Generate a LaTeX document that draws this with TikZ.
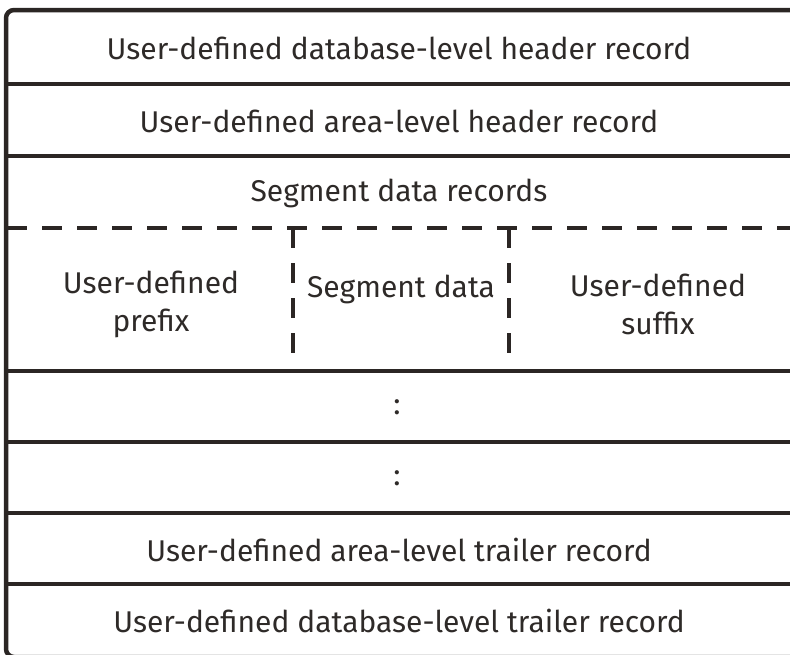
\documentclass[tikz,border=0pt]{standalone}
\usepackage{fontspec}
\setmainfont{Fira Sans}[Scale=1]
\definecolor{ink}{HTML}{2B2624}
\definecolor{txt}{HTML}{2E2A28}
\tikzset{
  rowline/.style={draw=ink, line width=4.5pt},
  dashline/.style={draw=ink, line width=4.5pt, dash pattern=on 20pt off 15pt},
  lbl/.style={text=txt, font=\fontsize{30}{38}\selectfont, align=center, inner sep=0pt},
}
\begin{document}
\begin{tikzpicture}[x=1pt, y=-1pt]
\useasboundingbox (0,0) rectangle (790,654);
\clip (0,0) rectangle (790,654);
% frame
\draw[rowline, rounded corners=8pt] (810,10) -- (6,10) -- (6,657) -- (810,657);
% solid row separators
\foreach \yy in {84,156,371,442,513,584} {
  \draw[rowline] (6,\yy) -- (810,\yy);
}
% dashed separators
\draw[dashline] (7,228) -- (810,228);
\draw[dashline] (293,228) -- (293,356);
\draw[dashline] (509,228) -- (509,356);
% labels
\node[lbl] (r1) at (399,48) {User-defined database-level header record};
\node[lbl] (r2) at (399,121) {User-defined area-level header record};
\node[lbl] (r3) at (399,193) {Segment data records};
\node[lbl] (pre) at (151,304) {User-defined\\prefix};
\node[lbl] (seg) at (401,289) {Segment data};
\node[lbl] (suf) at (658,304) {User-defined\\suffix};
\node[lbl] (d1) at (397,407) {:};
\node[lbl] (d2) at (397,478) {:};
\node[lbl] (r7) at (399,550) {User-defined area-level trailer record};
\node[lbl] (r8) at (399,621) {User-defined database-level trailer record};
\end{tikzpicture}
\end{document}
